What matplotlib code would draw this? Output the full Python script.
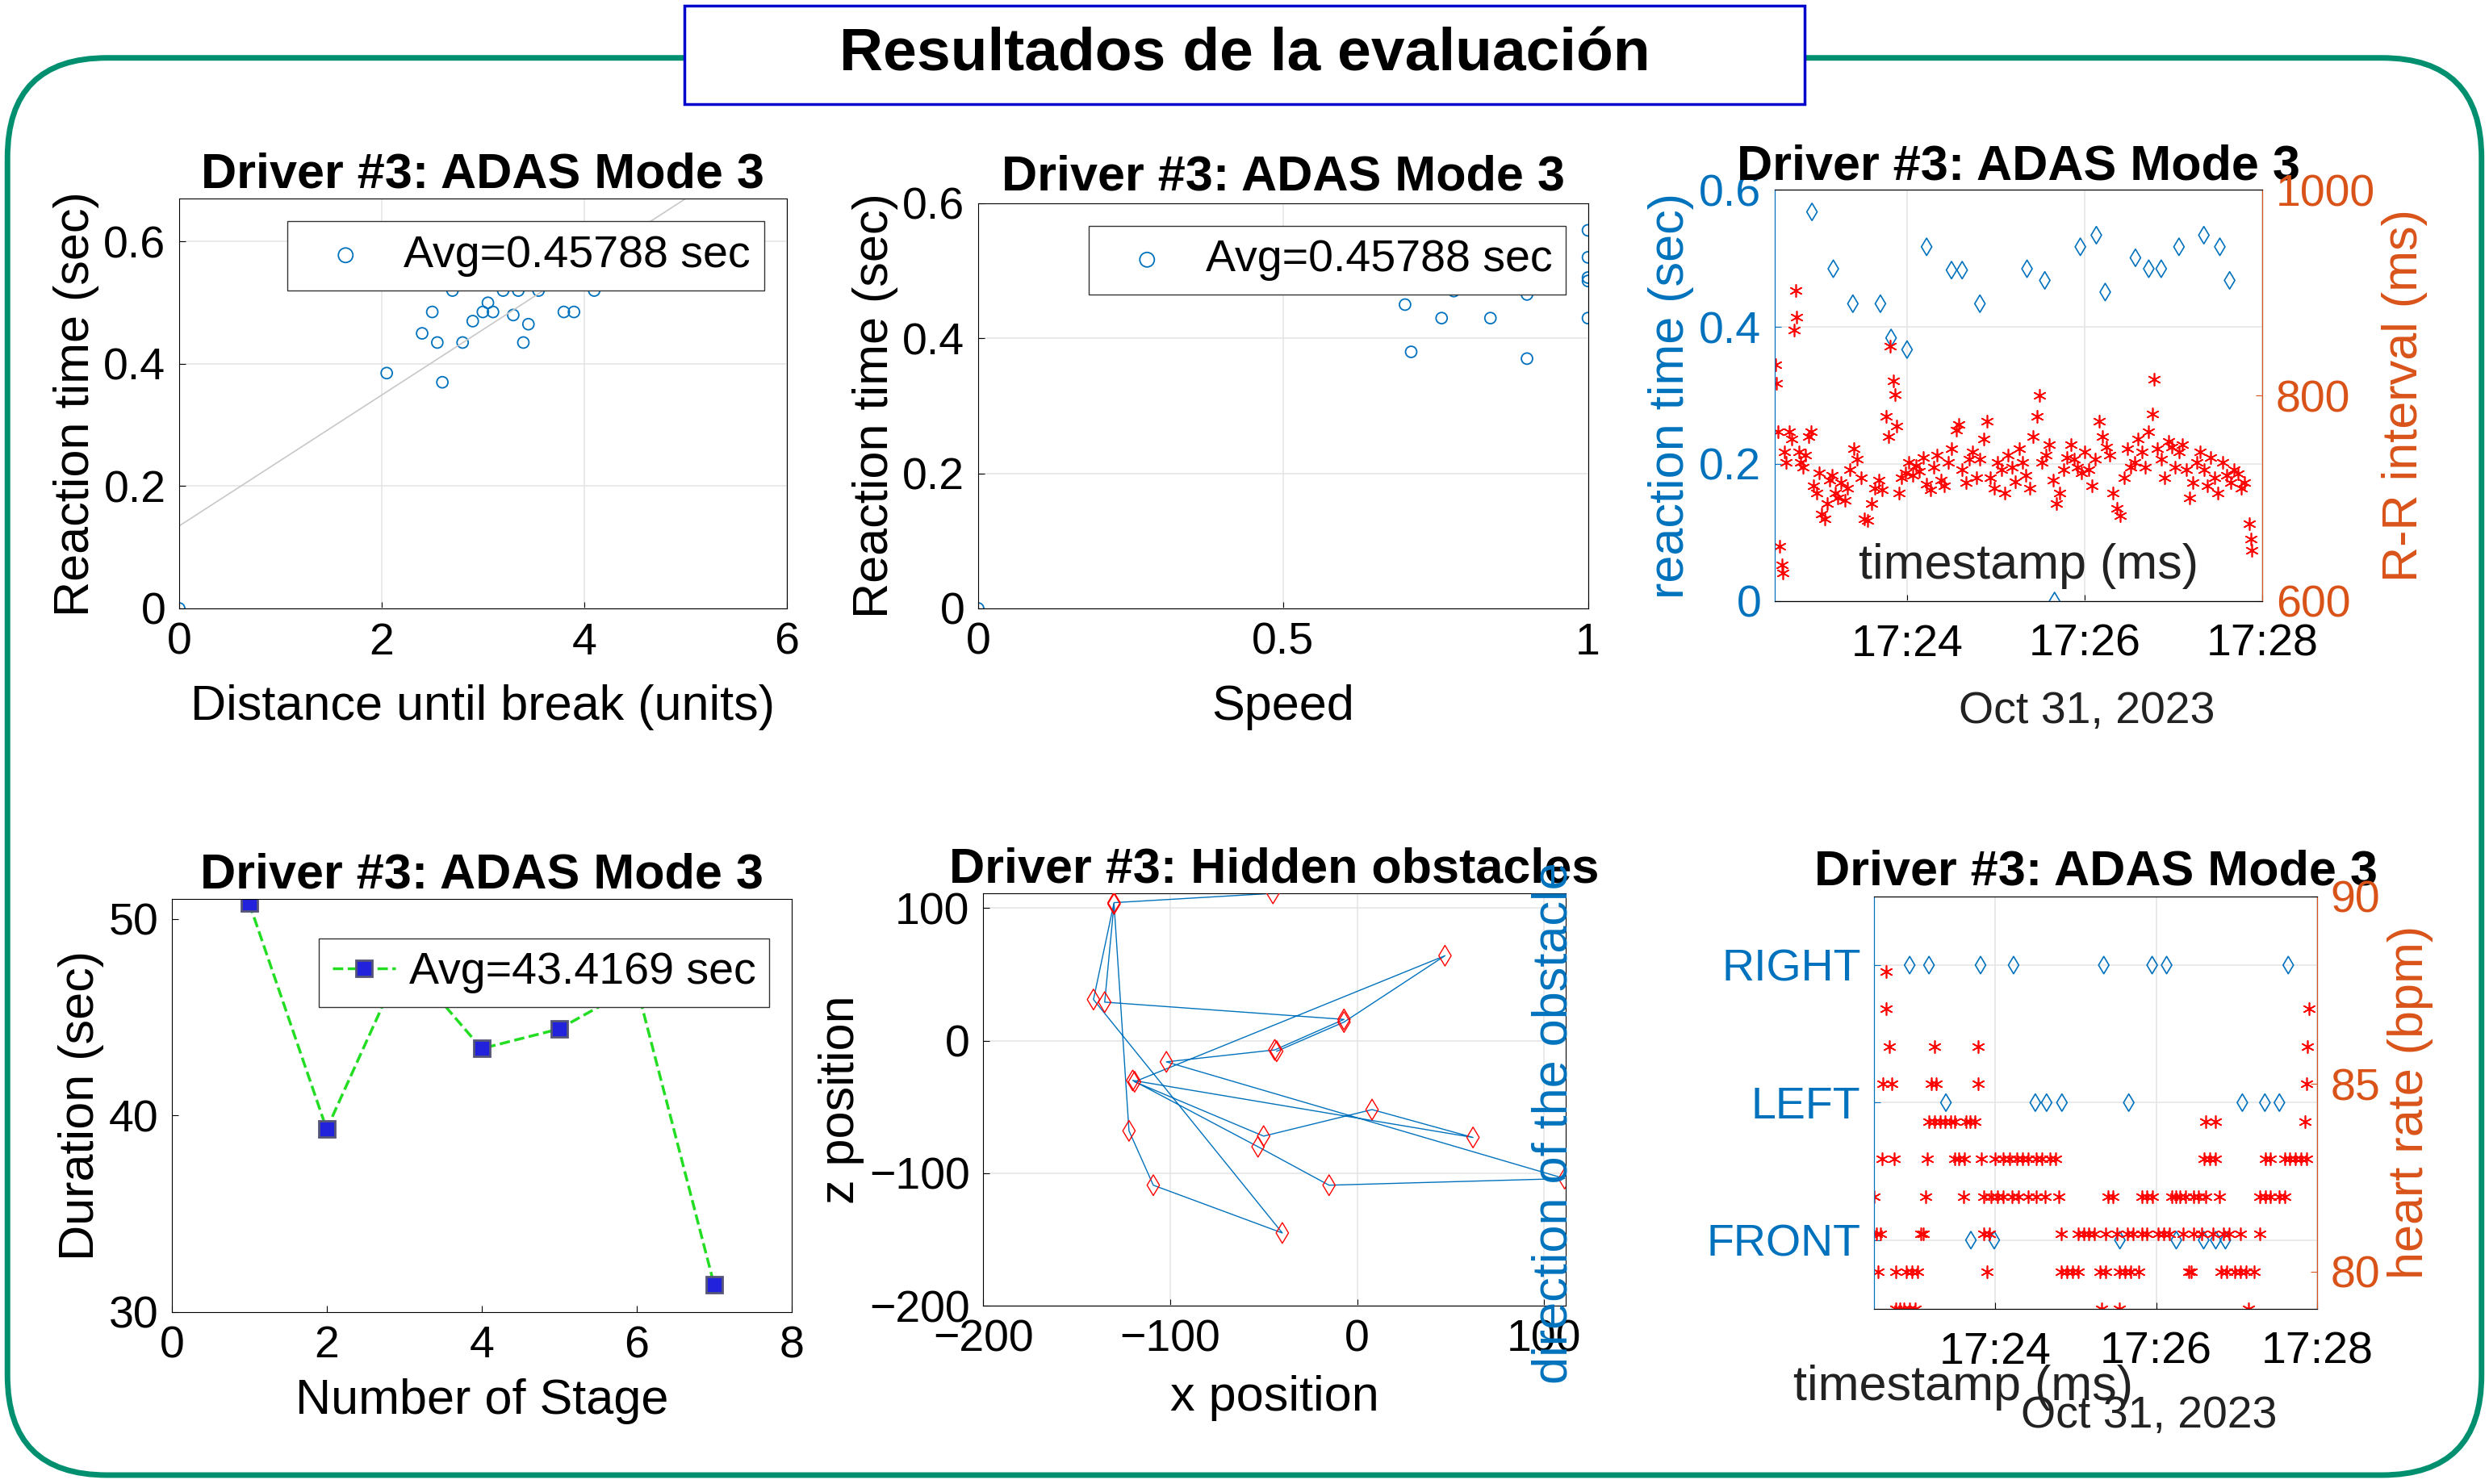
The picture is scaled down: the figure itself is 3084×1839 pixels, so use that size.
import numpy as np
import matplotlib
matplotlib.use("Agg")
import matplotlib.pyplot as plt
from matplotlib.patches import FancyBboxPatch, Rectangle

plt.rcParams["font.family"] = "Liberation Sans"

BLUE = "#0072BD"
ORANGE = "#D95319"
AST = (6, 2, 0)  # asterisk marker

# --- top left: distance vs reaction time
dist = [0, 2.05, 2.4, 2.5, 2.55, 2.6, 2.7, 2.8, 2.9, 3.0, 3.05, 3.1, 3.2,
        3.25, 3.3, 3.35, 3.4, 3.45, 3.5, 3.55, 3.8, 3.9, 4.1]
react_d = [0, 0.385, 0.45, 0.485, 0.435, 0.37, 0.52, 0.435, 0.47, 0.485,
           0.5, 0.485, 0.52, 0.535, 0.48, 0.52, 0.435, 0.465, 0.535, 0.52,
           0.485, 0.485, 0.52]
fit_x = [0, 5.0]
fit_y = [0.135, 0.67]

# --- top middle: speed vs reaction time
speed = [0, 0.70, 0.71, 0.71, 0.76, 0.78, 0.79, 0.82, 0.83, 0.84, 0.90, 0.90,
         1.0, 1.0, 1.0, 1.0, 1.0]
react_s = [0, 0.45, 0.38, 0.485, 0.43, 0.47, 0.49, 0.49, 0.49, 0.43, 0.465,
           0.37, 0.56, 0.52, 0.49, 0.485, 0.43]

# --- top right: reaction times and R-R intervals over time (minutes after 17:00)
rt_t = [22.93, 23.17, 23.39, 23.70, 23.82, 24.00, 24.22, 24.50, 24.62, 24.82,
        25.35, 25.55, 25.66, 25.95, 26.13, 26.23, 26.57, 26.72, 26.86, 27.06,
        27.34, 27.52, 27.63]
rt_v = [0.568, 0.485, 0.434, 0.434, 0.384, 0.367, 0.517, 0.483, 0.483, 0.434,
        0.485, 0.468, 0.0, 0.517, 0.534, 0.451, 0.501, 0.485, 0.485, 0.517,
        0.534, 0.517, 0.468]
rr_t = [22.52, 22.53, 22.55, 22.57, 22.59, 22.60, 22.62, 22.64, 22.67, 22.70,
        22.73, 22.75, 22.76, 22.78, 22.80, 22.83, 22.86, 22.89, 22.92, 22.95,
        22.98, 23.01, 23.04, 23.07, 23.10, 23.13, 23.16, 23.19, 23.22, 23.26,
        23.30, 23.33, 23.36, 23.40, 23.44, 23.48, 23.52, 23.56, 23.60, 23.64,
        23.68, 23.72, 23.76, 23.79, 23.81, 23.85, 23.86, 23.88, 23.91, 23.94,
        23.98, 24.02, 24.06, 24.10, 24.14, 24.18, 24.22, 24.26, 24.30, 24.34,
        24.38, 24.42, 24.46, 24.50, 24.55, 24.58, 24.62, 24.66, 24.70, 24.74,
        24.78, 24.82, 24.86, 24.90, 24.94, 24.98, 25.02, 25.06, 25.10, 25.14,
        25.18, 25.22, 25.26, 25.30, 25.34, 25.38, 25.42, 25.46, 25.49, 25.52,
        25.56, 25.60, 25.64, 25.68, 25.72, 25.76, 25.80, 25.84, 25.88, 25.92,
        25.96, 26.00, 26.04, 26.08, 26.12, 26.16, 26.20, 26.24, 26.28, 26.32,
        26.36, 26.40, 26.44, 26.48, 26.52, 26.56, 26.60, 26.64, 26.68, 26.72,
        26.76, 26.78, 26.82, 26.86, 26.90, 26.94, 26.98, 27.02, 27.06, 27.10,
        27.14, 27.18, 27.22, 27.26, 27.30, 27.34, 27.38, 27.42, 27.46, 27.50,
        27.55, 27.60, 27.64, 27.68, 27.72, 27.76, 27.80, 27.85, 27.87, 27.88]
rr_v = [830, 812, 765, 653, 635, 627, 745, 735, 765, 758,
        864, 902, 876, 745, 735, 730, 742, 760, 765, 712,
        705, 725, 685, 680, 695, 718, 722, 705, 700, 715,
        698, 710, 728, 748, 738, 720, 680, 678, 695, 710,
        718, 708, 780, 760, 848, 814, 801, 770, 705, 720,
        725, 735, 722, 732, 726, 740, 714, 708, 730, 742,
        718, 712, 735, 748, 766, 772, 728, 715, 738, 745,
        720, 738, 758, 775, 720, 710, 735, 728, 705, 742,
        730, 716, 748, 735, 722, 710, 760, 780, 800, 735,
        742, 752, 718, 695, 705, 728, 740, 752, 738, 730,
        725, 745, 728, 712, 738, 775, 760, 750, 742, 705,
        690, 683, 720, 748, 730, 735, 758, 745, 730, 765,
        782, 816, 748, 738, 720, 755, 750, 730, 745, 752,
        728, 700, 715, 735, 745, 728, 712, 740, 720, 705,
        735, 722, 715, 728, 724, 710, 715, 675, 660, 649]

# --- bottom left: duration per stage
stage = [1, 2, 3, 4, 5, 6, 7]
duration = [50.8, 39.3, 48.0, 43.4, 44.4, 46.6, 31.4]

# --- bottom middle: obstacle positions (in order visited)
obs_x = [-45, -130, -141, -40, -109, -122, -130, -135, -7, -44, -102, 111,
         -15, -53, -120, 62, 8, -50, -119, 47, -7, -43]
obs_z = [111, 104, 31, -145, -109, -68, 103, 29, 16, -7, -16, -104,
         -109, -80, -30, -73, -52, -72, -31, 64, 14, -8]

# --- bottom right: obstacle direction (1 FRONT, 2 LEFT, 3 RIGHT) and heart rate
dir_t = [22.94, 23.18, 23.82, 24.23, 25.35, 25.95, 26.13, 27.64,
         23.39, 24.50, 24.64, 24.83, 25.66, 27.07, 27.35, 27.53,
         23.70, 23.99, 25.55, 26.25, 26.59, 26.74, 26.86]
dir_v = [3] * 8 + [2] * 8 + [1] * 7
dir_labels = ["FRONT", "LEFT", "RIGHT"]
hr_88 = [22.65]
hr_87 = [22.65, 27.90]
hr_86 = [22.69, 23.25, 23.79, 27.88]
hr_85 = [22.61, 22.72, 23.21, 23.27, 23.79, 27.87]
hr_84 = [23.18, 23.25, 23.32, 23.38, 23.45, 23.50, 23.64, 23.69, 23.75,
         26.62, 26.74, 27.85]
hr_83 = [22.60, 22.75, 23.16, 23.50, 23.55, 23.62, 23.83, 24.00, 24.10,
         24.18, 24.27, 24.34, 24.41, 24.51, 24.58, 24.68, 24.75, 26.60, 26.67,
         26.74, 27.36, 27.42, 27.60, 27.66, 27.73, 27.80, 27.87]
hr_82 = [22.50, 23.14, 23.61, 23.86, 23.95, 24.03, 24.10, 24.21, 24.29,
         24.41, 24.51, 24.62, 24.79, 25.40, 25.46, 25.82, 25.88, 25.95, 26.19,
         26.24, 26.29, 26.36, 26.47, 26.53, 26.62, 26.79, 27.29, 27.36, 27.42,
         27.53, 27.60]
hr_81 = [22.53, 22.58, 23.08, 23.11, 23.86, 23.93, 24.82, 25.03, 25.10,
         25.16, 25.23, 25.37, 25.51, 25.64, 25.71, 25.82, 25.88, 26.02, 26.09,
         26.16, 26.33, 26.47, 26.57, 26.71, 26.84, 26.91, 27.05, 27.29]
hr_80 = [22.55, 22.77, 22.90, 22.97, 23.04, 23.90, 24.82, 24.89, 24.96,
         25.03, 25.30, 25.37, 25.54, 25.61, 25.68, 25.78, 26.40, 26.43, 26.81,
         26.88, 26.98, 27.05, 27.12, 27.22]
hr_79 = [22.77, 22.82, 22.87, 22.94, 23.01, 25.32, 25.54, 27.15]
hr_levels = [88, 87, 86, 85, 84, 83, 82, 81, 80, 79]
hr_times = [hr_88, hr_87, hr_86, hr_85, hr_84, hr_83, hr_82, hr_81, hr_80, hr_79]

time_ticks = [24, 26, 28]
time_labels = ["17:24", "17:26", "17:28"]

TK = 40
LB = 44
TT = 44

fig = plt.figure(figsize=(30.84, 18.39), dpi=100)

# frame and title box
fig.patches.append(FancyBboxPatch((0.003, 0.006), 0.994, 0.955,
                                  boxstyle="round,pad=0,rounding_size=0.04",
                                  transform=fig.transFigure, fill=False,
                                  ec="#009070", lw=5, mutation_aspect=1.68))
fig.patches.append(Rectangle((0.275, 0.930), 0.45, 0.066, transform=fig.transFigure,
                             fc="white", ec="#0000CC", lw=2.5, zorder=3))
fig.text(0.5, 0.963, "Resultados de la evaluación", ha="center", va="center",
         fontsize=54, fontweight="bold", zorder=4)


def style(ax):
    ax.tick_params(labelsize=TK, direction="in", length=6, pad=12)
    ax.grid(True, color="#e6e6e6", lw=1.2)
    ax.set_axisbelow(True)


def legend(ax, **kw):
    ax.legend(loc="upper right", fontsize=TK, fancybox=False, edgecolor="#333333",
              framealpha=1, handletextpad=0.3, borderpad=0.3, markerscale=1.3, **kw)


# top left
ax = fig.add_axes([0.072, 0.590, 0.244, 0.276])
ax.plot(fit_x, fit_y, color="#c8c8c8", lw=1.2)
ax.scatter(dist, react_d, s=100, facecolors="none", edgecolors=BLUE, lw=1.3,
           label="Avg=0.45788 sec")
ax.set_xlim(0, 6)
ax.set_ylim(0, 0.67)
ax.set_xticks([0, 2, 4, 6])
ax.set_yticks([0, 0.2, 0.4, 0.6])
ax.set_yticklabels(["0", "0.2", "0.4", "0.6"])
style(ax)
ax.set_title("Driver #3: ADAS Mode 3", fontsize=TT, fontweight="bold", pad=10)
ax.set_xlabel("Distance until break (units)", fontsize=LB, labelpad=18)
ax.set_ylabel("Reaction time (sec)", fontsize=LB)
legend(ax)

# top middle
ax = fig.add_axes([0.393, 0.590, 0.245, 0.273])
ax.scatter(speed, react_s, s=100, facecolors="none", edgecolors=BLUE, lw=1.3,
           label="Avg=0.45788 sec")
ax.set_xlim(0, 1)
ax.set_ylim(0, 0.6)
ax.set_xticks([0, 0.5, 1])
ax.set_xticklabels(["0", "0.5", "1"])
ax.set_yticks([0, 0.2, 0.4, 0.6])
ax.set_yticklabels(["0", "0.2", "0.4", "0.6"])
style(ax)
ax.set_title("Driver #3: ADAS Mode 3", fontsize=TT, fontweight="bold", pad=12)
ax.set_xlabel("Speed", fontsize=LB, labelpad=18)
ax.set_ylabel("Reaction time (sec)", fontsize=LB)
legend(ax)

# top right
ax = fig.add_axes([0.713, 0.595, 0.196, 0.277])
ax2 = ax.twinx()
ax.scatter(rt_t, rt_v, s=120, marker="d", facecolors="none", edgecolors=BLUE,
           lw=1.2, zorder=3)
ax2.scatter(rr_t, rr_v, s=120, marker=AST, color="red", lw=1.2)
ax.set_xlim(22.51, 28)
ax.set_ylim(0, 0.6)
ax2.set_ylim(600, 1000)
ax.set_xticks(time_ticks)
ax.set_xticklabels(time_labels)
ax.set_yticks([0, 0.2, 0.4, 0.6])
ax.set_yticklabels(["0", "0.2", "0.4", "0.6"])
ax2.set_yticks([600, 800, 1000])
style(ax)
ax.tick_params(axis="x", pad=20)
ax.tick_params(axis="y", colors=BLUE)
ax2.tick_params(labelsize=TK, colors=ORANGE, direction="in", length=6, pad=12)
ax.spines["left"].set_color(BLUE)
ax2.spines["left"].set_color(BLUE)
ax2.spines["right"].set_color(ORANGE)
ax.set_title("Driver #3: ADAS Mode 3", fontsize=TT, fontweight="bold", pad=0)
ax.set_ylabel("reaction time (sec)", fontsize=LB, color=BLUE, labelpad=4)
ax2.set_ylabel("R-R interval (ms)", fontsize=LB, color=ORANGE, labelpad=6)
ax.text(0.52, 0.03, "timestamp (ms)", transform=ax.transAxes, ha="center",
        va="bottom", fontsize=LB, color="#222222")
ax.text(0.64, -0.27, "Oct 31, 2023", transform=ax.transAxes, ha="center",
        va="center", fontsize=TK, color="#222222")

# bottom left
ax = fig.add_axes([0.069, 0.116, 0.249, 0.278])
ax.plot(stage, duration, ls="--", color="#22DD22", lw=2.5, marker="s", ms=14,
        mfc="#2222DD", mec="#555577", mew=2, label="Avg=43.4169 sec")
ax.set_xlim(0, 8)
ax.set_ylim(30, 51)
ax.set_xticks([0, 2, 4, 6, 8])
ax.set_yticks([30, 40, 50])
style(ax)
ax.grid(False)
ax.set_title("Driver #3: ADAS Mode 3", fontsize=TT, fontweight="bold", pad=10)
ax.set_xlabel("Number of Stage", fontsize=LB, labelpad=10)
ax.set_ylabel("Duration (sec)", fontsize=LB)
ax.legend(loc="upper right", bbox_to_anchor=(1.0, 0.96), fontsize=TK,
          fancybox=False, edgecolor="#333333", framealpha=1, handlelength=1.4,
          handletextpad=0.3, borderpad=0.3)

# bottom middle
ax = fig.add_axes([0.395, 0.120, 0.234, 0.278])
ax.plot(obs_x, obs_z, color=BLUE, lw=1.0)
ax.scatter(obs_x, obs_z, s=170, marker="d", facecolors="none", edgecolors="red",
           lw=1.0, zorder=3)
ax.set_xlim(-200, 111.5)
ax.set_ylim(-200, 111)
ax.set_xticks([-200, -100, 0, 100])
ax.set_yticks([-200, -100, 0, 100])
style(ax)
ax.set_title("Driver #3: Hidden obstacles", fontsize=TT, fontweight="bold", pad=10)
ax.set_xlabel("x position", fontsize=LB, labelpad=12)
ax.set_ylabel("z position", fontsize=LB)

# bottom right
ax = fig.add_axes([0.753, 0.118, 0.178, 0.278])
ax2 = ax.twinx()
ax.scatter(dir_t, dir_v, s=120, marker="d", facecolors="none", edgecolors=BLUE,
           lw=1.2, zorder=3)
for lvl, ts in zip(hr_levels, hr_times):
    ax2.scatter(ts, [lvl] * len(ts), s=120, marker=AST, color="red", lw=1.2)
ax.set_xlim(22.5, 28)
ax.set_ylim(0.5, 3.5)
ax2.set_ylim(79, 90)
ax.set_xticks(time_ticks)
ax.set_xticklabels(time_labels)
ax.set_yticks([1, 2, 3])
ax.set_yticklabels(dir_labels, fontsize=44)
ax2.set_yticks([80, 85, 90])
style(ax)
ax.tick_params(axis="x", pad=20)
ax.tick_params(axis="y", colors=BLUE)
ax2.tick_params(labelsize=TK, colors=ORANGE, direction="in", length=6, pad=12)
ax.spines["left"].set_color(BLUE)
ax2.spines["left"].set_color(BLUE)
ax2.spines["right"].set_color(ORANGE)
ax.set_title("Driver #3: ADAS Mode 3", fontsize=TT, fontweight="bold", pad=10)
ax.set_ylabel("direction of the obstacle", fontsize=LB, color=BLUE)
ax.yaxis.set_label_coords(-0.67, 0.45)
ax2.set_ylabel("heart rate (bpm)", fontsize=LB, color=ORANGE, labelpad=6)
ax.text(0.2, -0.19, "timestamp (ms)", transform=ax.transAxes, ha="center",
        va="center", fontsize=LB, color="#222222")
ax.text(0.62, -0.26, "Oct 31, 2023", transform=ax.transAxes, ha="center",
        va="center", fontsize=TK, color="#222222")

fig.savefig("out.png", dpi=100)
